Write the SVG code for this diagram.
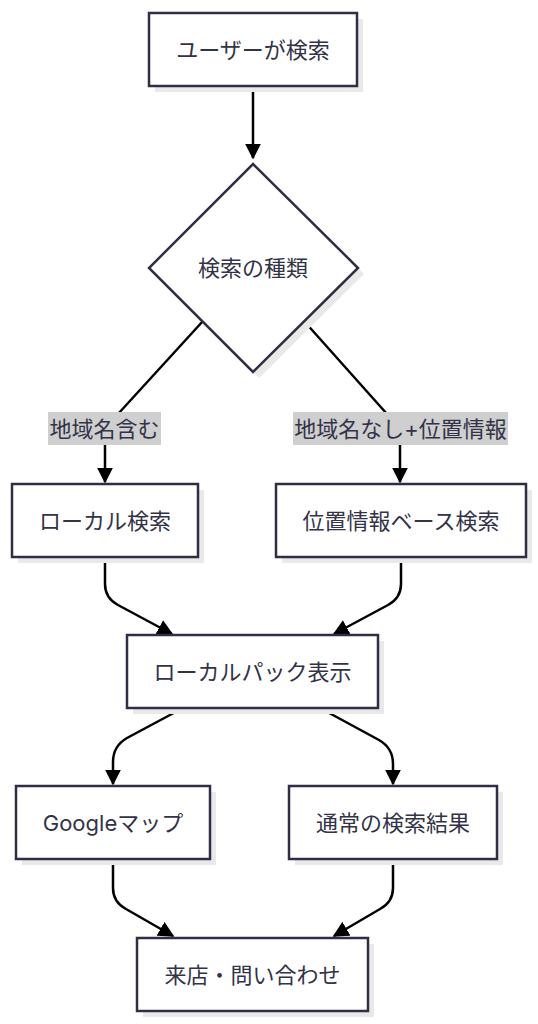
<svg xmlns="http://www.w3.org/2000/svg" width="538" height="1024" viewBox="0 0 538 1024">
<style>
.shadow{fill:#e9e9e9}
.node{fill:#ffffff;stroke:#2e2e45;stroke-width:2.5}
.label{font-family:"Inter","Noto Sans CJK JP",sans-serif;font-size:22px;fill:#333348;text-anchor:middle;dominant-baseline:central}
.edge{fill:none;stroke:#000000;stroke-width:2.5}
.elbg{fill:#cfcfcf}
</style>
<defs>
<marker id="arrow" viewBox="0 0 10 10" refX="9" refY="5" markerUnits="userSpaceOnUse" markerWidth="16" markerHeight="16" orient="auto">
<path d="M0,0 L10,5 L0,10 z" fill="#000000"/>
</marker>
</defs>
<rect width="538" height="1024" fill="#ffffff"/>
<g id="connectors">
<path class="edge" d="M253,86 L253,158" marker-end="url(#arrow)"/>
<path class="edge" d="M203,321 L118,414 Q105,428 105,445 L105,482" marker-end="url(#arrow)"/>
<path class="edge" d="M304,321 L387,414 Q400,428 400,445 L400,482" marker-end="url(#arrow)"/>
<path class="edge" d="M105,557 L105,584 Q105,598 118,605 L172,634" marker-end="url(#arrow)"/>
<path class="edge" d="M401,557 L401,584 Q401,598 388,605 L334,634" marker-end="url(#arrow)"/>
<path class="edge" d="M183,708 L127,738 Q113,746 113,762 L113,784" marker-end="url(#arrow)"/>
<path class="edge" d="M320,708 L379,740 Q393,748 393,764 L393,784" marker-end="url(#arrow)"/>
<path class="edge" d="M113,859 L113,888 Q113,902 126,909 L173,936" marker-end="url(#arrow)"/>
<path class="edge" d="M393,859 L393,888 Q393,902 380,909 L334,936" marker-end="url(#arrow)"/>
</g>
<g id="edge-label-1">
<rect class="elbg" x="48" y="412" width="113" height="33"/>
<text class="label" x="104.5" y="428.5">地域名含む</text>
</g>
<g id="edge-label-2">
<rect class="elbg" x="293" y="412" width="215" height="33"/>
<text class="label" x="400.5" y="428.5">地域名なし+位置情報</text>
</g>
<g id="node-user">
<rect class="shadow" x="155" y="19" width="208" height="73"/>
<rect class="node" x="149" y="13" width="208" height="73"/>
<text class="label" x="253" y="49.5">ユーザーが検索</text>
</g>
<g id="node-type">
<polygon class="shadow" points="259,170 364,274 259,378 155,274"/>
<polygon class="node" points="253,164 358,268 253,372 149,268"/>
<text class="label" x="253" y="268">検索の種類</text>
</g>
<g id="node-local">
<rect class="shadow" x="18" y="490" width="186" height="73"/>
<rect class="node" x="12" y="484" width="186" height="73"/>
<text class="label" x="105" y="520.5">ローカル検索</text>
</g>
<g id="node-geo">
<rect class="shadow" x="282" y="490" width="250" height="73"/>
<rect class="node" x="276" y="484" width="250" height="73"/>
<text class="label" x="401" y="520.5">位置情報ベース検索</text>
</g>
<g id="node-pack">
<rect class="shadow" x="133" y="641" width="251" height="73"/>
<rect class="node" x="127" y="635" width="251" height="73"/>
<text class="label" x="252.5" y="671.5">ローカルパック表示</text>
</g>
<g id="node-maps">
<rect class="shadow" x="22" y="792" width="194" height="73"/>
<rect class="node" x="16" y="786" width="194" height="73"/>
<text class="label" x="113" y="822.5">Googleマップ</text>
</g>
<g id="node-organic">
<rect class="shadow" x="295" y="792" width="208" height="73"/>
<rect class="node" x="289" y="786" width="208" height="73"/>
<text class="label" x="393" y="822.5">通常の検索結果</text>
</g>
<g id="node-visit">
<rect class="shadow" x="143" y="944" width="231" height="73"/>
<rect class="node" x="137" y="938" width="231" height="73"/>
<text class="label" x="252.5" y="974.5">来店・問い合わせ</text>
</g>
</svg>
